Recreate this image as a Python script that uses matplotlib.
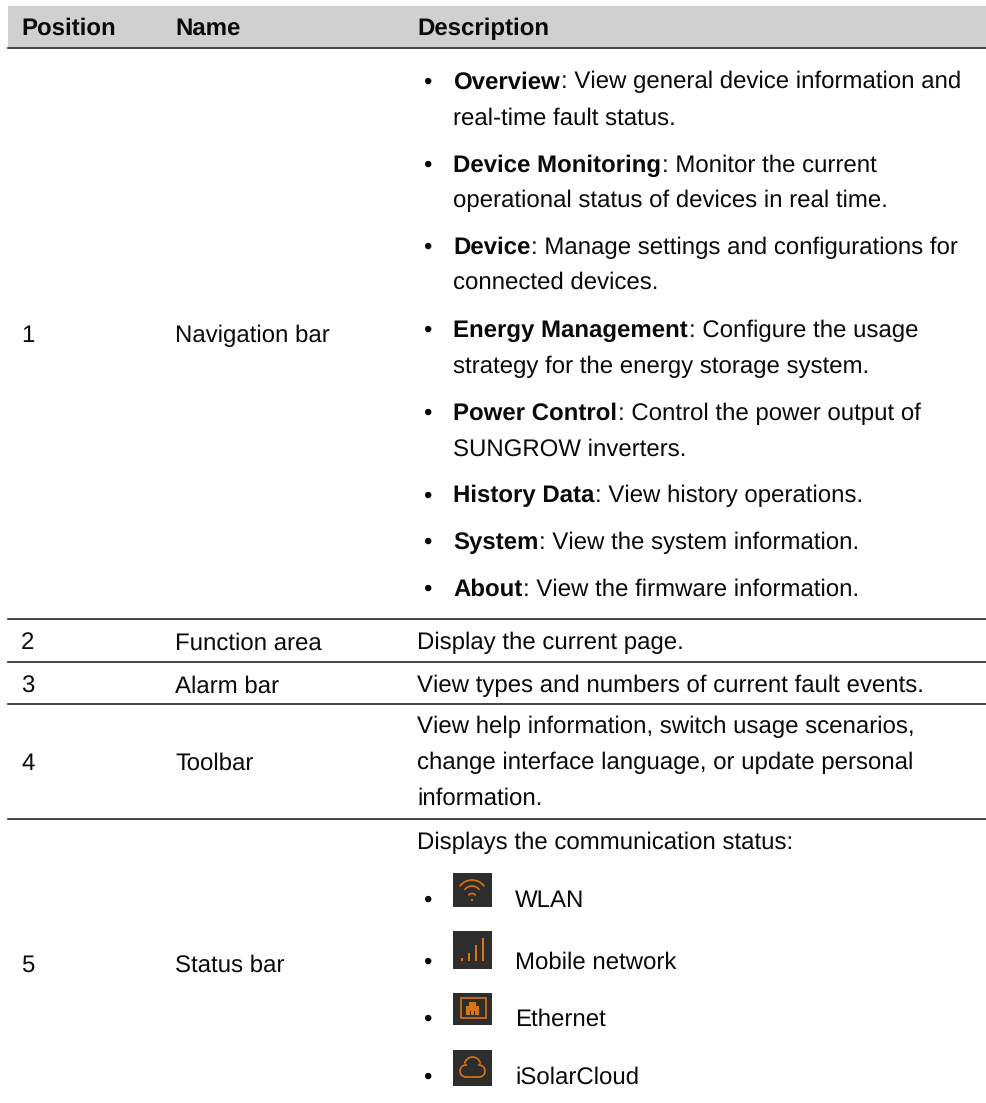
import matplotlib
matplotlib.use('Agg')
import matplotlib.pyplot as plt
from matplotlib.patches import Rectangle, Arc, Circle, Polygon

plt.rcParams['text.hinting'] = 'no_hinting'
plt.rcParams['text.hinting_factor'] = 1

W = 987
H = 1103
FS = 17.0
FONT = 'Liberation Sans'

headers = ['Position', 'Name', 'Description']
positions = ['1', '2', '3', '4', '5']
names = ['Navigation bar', 'Function area', 'Alarm bar', 'Toolbar', 'Status bar']
nav_items = [
    ('Overview', ': View general device information and', 'real-time fault status.', 88.3, 125),
    ('Device Monitoring', ': Monitor the current', 'operational status of devices in real time.', 171.7, 206.7),
    ('Device', ': Manage settings and configurations for', 'connected devices.', 254, 289),
    ('Energy Management', ': Configure the usage', 'strategy for the energy storage system.', 336.7, 372.7),
    ('Power Control', ': Control the power output of', 'SUNGROW inverters.', 420, 455.7),
    ('History Data', ': View history operations.', None, 502.3, None),
    ('System', ': View the system information.', None, 549, None),
    ('About', ': View the firmware information.', None, 596, None),
]
# text baselines
row_y = [342, 649.3, 692.3, 770, 972]
plain_desc = [
    ('Display the current page.', 649.3),
    ('View types and numbers of current fault events.', 692.3),
    ('View help information, switch usage scenarios,', 733),
    ('change interface language, or update personal', 769),
    ('information.', 805),
    ('Displays the communication status:', 848.7),
]
rule_y = [619, 661.7, 704, 818.5]
status_items = [('WLAN', 906.7), ('Mobile network', 968.3), ('Ethernet', 1025.7), ('iSolarCloud', 1084)]
icon_box = [(873, 34), (931, 38), (993, 32), (1050, 36)]

fig = plt.figure(figsize=(W / 100, H / 100), dpi=100)
ax = fig.add_axes([0, 0, 1, 1])
ax.set_xlim(0, W)
ax.set_ylim(H, 0)
ax.axis('off')


def txt(x, y, s, bold=False):
    return ax.text(x, y, s, fontsize=FS, family=FONT, va='baseline', ha='left',
                   color='#0a0a0a', fontweight='bold' if bold else 'normal')


# header
ax.add_patch(Rectangle((8, 6), 979, 41, fc='#d0d0d0', ec='none'))
ax.plot([8, 987], [47.5, 47.5], color='#222222', lw=1.2)
for x, s in zip([21, 175, 417], headers):
    txt(x, 35, s, bold=True)

for y in rule_y:
    ax.plot([8, 987], [y, y], color='#222222', lw=1.2)

# first two columns
for p, n, y in zip(positions, names, row_y):
    txt(21, y, p)
    txt(175, y, n)

# navigation bullets
fig.canvas.draw()
rend = fig.canvas.get_renderer()
for bold, rest, line2, y1, y2 in nav_items:
    txt(423, y1, '\u2022')
    t = txt(453, y1, bold, bold=True)
    # regular text starts where the bold part ends
    w = t.get_window_extent(rend).width
    txt(453 + w + 1, y1, rest)
    if line2:
        txt(453, y2, line2)

for s, y in plain_desc:
    txt(417, y, s)

for s, y in status_items:
    txt(423, y, '\u2022')
    txt(515, y, s)


# status icons
ORANGE = '#d9750f'
DARK = '#2d2d2d'
for y, h in icon_box:
    ax.add_patch(Rectangle((453, y), 39, h, fc=DARK, ec='none'))

# wlan
ax.add_patch(Arc((472, 895), 30, 30, theta1=215, theta2=325, color=ORANGE, lw=1.2))
ax.add_patch(Arc((472, 895), 18, 18, theta1=215, theta2=325, color=ORANGE, lw=1.2))
ax.add_patch(Arc((472, 898), 9, 9, theta1=215, theta2=325, color=ORANGE, lw=1.2))
ax.add_patch(Circle((472, 900), 1.1, fc=ORANGE, ec='none'))

# mobile
for x, h in zip([462, 469, 476, 483], [3, 8, 16, 23]):
    ax.add_patch(Rectangle((x - 0.8, 961 - h), 1.6, h, fc=ORANGE, ec='none'))

# ethernet
ax.add_patch(Rectangle((460.5, 998), 25, 20, fc='none', ec=ORANGE, lw=1.2))
ax.add_patch(Polygon([(466, 1015), (466, 1006), (469, 1006), (469, 1002),
                      (476, 1002), (476, 1006), (479, 1006), (479, 1015)],
                     fc=ORANGE, ec='none'))
for x in (469.5, 473.5):
    ax.add_patch(Rectangle((x, 1011), 1.5, 4, fc=DARK, ec='none'))

# cloud
ax.add_patch(Arc((472.5, 1065), 16, 16, theta1=190, theta2=350, color=ORANGE, lw=1.2))
ax.add_patch(Arc((466, 1071), 12, 12, theta1=90, theta2=280, color=ORANGE, lw=1.2))
ax.add_patch(Arc((479, 1071), 12, 12, theta1=-100, theta2=90, color=ORANGE, lw=1.2))
ax.plot([466, 479], [1077, 1077], color=ORANGE, lw=1.2)

fig.savefig('out.png', dpi=100)
